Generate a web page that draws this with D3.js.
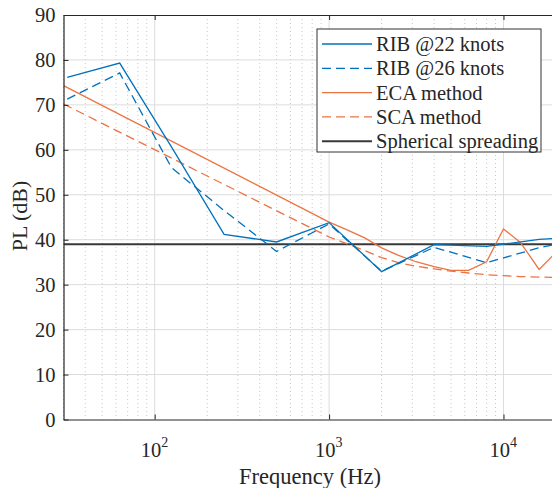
<!DOCTYPE html>
<html>
<head>
<meta charset="utf-8">
<script src="https://cdn.jsdelivr.net/npm/d3@7"></script>
<style>
  body { margin: 0; background: #fff; }
  svg text { font-family: "Liberation Serif", "Times New Roman", Times, "DejaVu Serif", serif !important; fill: #262626; }
</style>
</head>
<body>
<div id="chart"></div>
<script>
// Data
const ribFreq = [31.5, 63, 125, 250, 500, 1000, 2000, 4000, 8000, 16000, 20000];
const rib22 = [76.1, 79.3, 60.6, 41.2, 39.5, 43.8, 32.9, 38.9, 38.5, 40.1, 40.3];
const rib26 = [71.3, 77.1, 56.0, 46.5, 37.4, 43.5, 33.0, 38.3, 34.9, 38.2, 39.0];

const methodFreq = [30, 1000, 1250, 1600, 2000, 2500, 3150, 4000, 5000, 6300, 8000, 10000, 12500, 16000, 20000];
const eca = [74.3, 43.9, 42.3, 40.4, 38.2, 36.5, 35.1, 34.0, 33.2, 33.2, 35.1, 42.4, 39.4, 33.4, 37.2];
const sca = [70.2, 40.6, 39.2, 37.6, 36.0, 34.9, 34.1, 33.5, 33.0, 32.6, 32.2, 32.0, 31.8, 31.7, 31.6];

const sphFreq = [30, 20000];
const sph = [39.0, 39.0];

const yTicks = [0, 10, 20, 30, 40, 50, 60, 70, 80, 90];
const xDecades = [100, 1000, 10000];
const xTickLabels = ["2", "3", "4"];
const legendLabels = ["RIB @22 knots", "RIB @26 knots", "ECA method", "SCA method", "Spherical spreading"];

const blue = "#0072BD";
const orange = "#EC7442";
const serif = "'Liberation Serif', 'Times New Roman', Times, 'DejaVu Serif', serif";

// Dimensions
const W = 552, H = 488;
const plot = { left: 63.5, right: 556, top: 15, bottom: 419.5 };

const svg = d3.select("#chart").append("svg")
    .attr("width", W)
    .attr("height", H)
    .style("font-family", serif);

const x = d3.scaleLog().domain([30, 20000]).range([plot.left, plot.right]);
const y = d3.scaleLinear().domain([0, 90]).range([plot.bottom, plot.top]);

svg.append("defs").append("clipPath").attr("id", "clip")
  .append("rect")
    .attr("x", plot.left).attr("y", plot.top)
    .attr("width", plot.right - plot.left).attr("height", plot.bottom - plot.top);

// minor x grid (dotted)
const minorTicks = x.ticks().filter(t => xDecades.indexOf(t) < 0);
svg.append("g").selectAll("line")
  .data(minorTicks)
  .join("line")
    .attr("x1", d => x(d)).attr("x2", d => x(d))
    .attr("y1", plot.top).attr("y2", plot.bottom)
    .attr("stroke", "#c8c8c8")
    .attr("stroke-width", 1)
    .attr("stroke-dasharray", "1,3");

// major grid
svg.append("g").selectAll("line")
  .data(xDecades)
  .join("line")
    .attr("x1", d => x(d)).attr("x2", d => x(d))
    .attr("y1", plot.top).attr("y2", plot.bottom)
    .attr("stroke", "#dcdcdc");

svg.append("g").selectAll("line")
  .data(yTicks.slice(1, -1))
  .join("line")
    .attr("x1", plot.left).attr("x2", plot.right)
    .attr("y1", d => y(d)).attr("y2", d => y(d))
    .attr("stroke", "#dcdcdc");

// lines
const line = d3.line()
    .x(d => x(d[0]))
    .y(d => y(d[1]));

const series = [
  { f: sphFreq, v: sph, color: "#383838", width: 2, dash: null },
  { f: methodFreq, v: sca, color: orange, width: 1.3, dash: "9,5" },
  { f: methodFreq, v: eca, color: orange, width: 1.3, dash: null },
  { f: ribFreq, v: rib26, color: blue, width: 1.3, dash: "9,5" },
  { f: ribFreq, v: rib22, color: blue, width: 1.3, dash: null }
];

const lines = svg.append("g").attr("clip-path", "url(#clip)");
series.forEach(s => {
  lines.append("path")
    .datum(s.f.map((f, i) => [f, s.v[i]]))
    .attr("d", line)
    .attr("fill", "none")
    .attr("stroke", s.color)
    .attr("stroke-width", s.width)
    .attr("stroke-dasharray", s.dash);
});

// Axes
const axisColor = "#262626";
const xAxis = svg.append("g")
    .attr("transform", `translate(0,${plot.bottom})`)
    .call(d3.axisBottom(x).tickValues(xDecades).tickSizeInner(-5).tickSizeOuter(0).tickFormat(""));
const xTop = svg.append("g")
    .attr("transform", `translate(0,${plot.top})`)
    .call(d3.axisTop(x).tickValues(xDecades).tickSizeInner(-5).tickSizeOuter(0).tickFormat(""));
const yAxis = svg.append("g")
    .attr("transform", `translate(${plot.left},0)`)
    .call(d3.axisLeft(y).tickValues(yTicks).tickSizeInner(-5).tickSizeOuter(0).tickPadding(8));

[xAxis, xTop, yAxis].forEach(g => {
  g.attr("font-family", null);
  g.select(".domain").attr("stroke", axisColor).attr("stroke-width", 1.2);
  g.selectAll(".tick line").attr("stroke", axisColor);
});
yAxis.attr("font-size", null);
yAxis.selectAll(".tick text")
    .style("font-family", serif)
    .style("font-size", "20.5px")
    .attr("fill", axisColor);

// x tick labels 10^n
const xl = svg.append("g").selectAll("text")
  .data(xDecades)
  .join("text")
    .attr("x", d => x(d) - 14)
    .attr("y", 457)
    .style("font-family", serif)
    .style("font-size", "20.5px");
xl.append("tspan").text("10");
xl.append("tspan")
    .attr("dy", -10)
    .style("font-size", "14px")
    .text((d, i) => xTickLabels[i]);

svg.append("text")
    .attr("x", 310)
    .attr("y", 484)
    .attr("text-anchor", "middle")
    .style("font-family", serif)
    .style("font-size", "22.5px")
    .text("Frequency (Hz)");

svg.append("text")
    .attr("transform", "translate(27,216) rotate(-90)")
    .attr("text-anchor", "middle")
    .style("font-family", serif)
    .style("font-size", "22px")
    .text("PL (dB)");

// Legend
const legend = svg.append("g");
legend.append("rect")
    .attr("x", 317).attr("y", 29)
    .attr("width", 224).attr("height", 123)
    .attr("fill", "#fff")
    .attr("stroke", "#333")
    .attr("stroke-width", 1);

const legendStyle = [series[4], series[3], series[2], series[1], series[0]];
legendLabels.forEach((lab, i) => {
  const ly = 44 + i * 24.3;
  legend.append("line")
    .attr("x1", 322).attr("x2", 372)
    .attr("y1", ly).attr("y2", ly)
    .attr("stroke", legendStyle[i].color)
    .attr("stroke-width", legendStyle[i].width)
    .attr("stroke-dasharray", legendStyle[i].dash);
  legend.append("text")
    .attr("x", 376)
    .attr("y", ly + 7)
    .style("font-family", serif)
    .style("font-size", "20.5px")
    .text(lab);
});
</script>
</body>
</html>
